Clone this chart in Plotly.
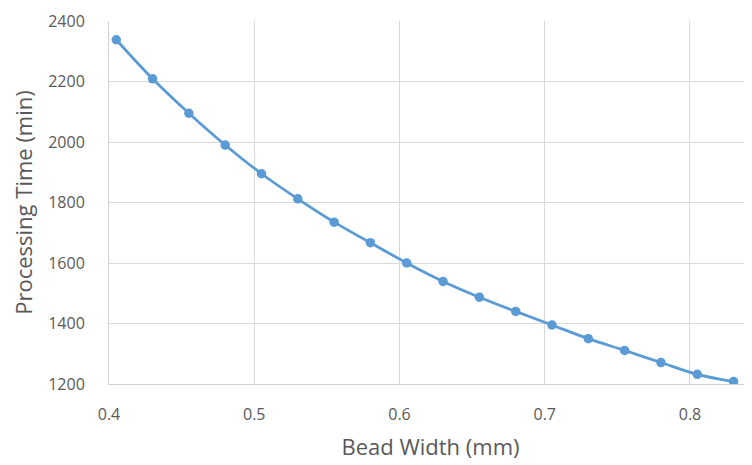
import plotly.graph_objects as go

bead_width = [0.405, 0.430, 0.455, 0.480, 0.505, 0.530, 0.555, 0.580, 0.605,
              0.630, 0.655, 0.680, 0.705, 0.730, 0.755, 0.780, 0.805, 0.830]
processing_time = [2338, 2209, 2095, 1990, 1895, 1812, 1735, 1667, 1600,
                   1539, 1487, 1440, 1395, 1350, 1311, 1271, 1232, 1208]
x_ticks = [0.4, 0.5, 0.6, 0.7, 0.8]
x_tick_labels = ["0.4", "0.5", "0.6", "0.7", "0.8"]
y_ticks = [1200, 1400, 1600, 1800, 2000, 2200, 2400]

blue = "#5b9bd5"
fig = go.Figure(go.Scatter(
    x=bead_width, y=processing_time, mode="lines+markers",
    line=dict(color=blue, width=2.75, shape="spline"),
    marker=dict(color=blue, size=9.5),
    showlegend=False,
))

font = "Open Sans, Segoe UI, Calibri, sans-serif"
fig.update_layout(
    width=744, height=457,
    margin=dict(l=101, r=0, t=13, b=81),
    paper_bgcolor="white", plot_bgcolor="white",
    font=dict(family=font, color="#595959"),
    xaxis=dict(
        range=[0.4, 0.8427], tickvals=x_ticks, ticktext=x_tick_labels,
        showgrid=True, gridcolor="#d9d9d9", gridwidth=1,
        zeroline=False, showline=True, linecolor="#d0d0d0", linewidth=1,
        automargin=False,
        tickfont=dict(size=16, color="#595959"), ticklabelstandoff=16,
        title=dict(text="Bead Width (mm)", font=dict(size=22, color="#595959"), standoff=15),
    ),
    yaxis=dict(
        range=[1200, 2400], tickvals=y_ticks,
        showgrid=True, gridcolor="#d9d9d9", gridwidth=1,
        zeroline=False, showline=True, linecolor="#d0d0d0", linewidth=1,
        automargin=False,
        tickfont=dict(size=16, color="#595959"), ticklabelstandoff=20,
        title=dict(text="Processing Time (min)", font=dict(size=22, color="#595959"), standoff=10),
    ),
)

fig.write_html("out.html")
